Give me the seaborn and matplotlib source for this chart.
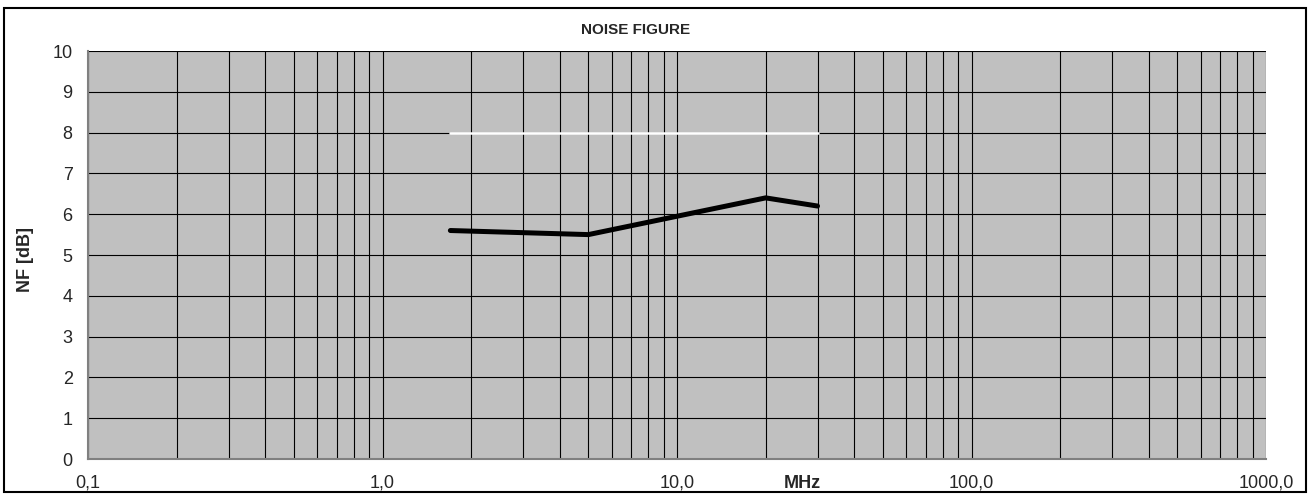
import numpy as np
import matplotlib
matplotlib.use("Agg")
import matplotlib.pyplot as plt
import matplotlib.ticker as mticker
from matplotlib.patches import Rectangle
import seaborn as sns

# NF measurement (MHz, dB)
freq = [1.7, 5.0, 10.0, 20.0, 30.0]
nf = [5.6, 5.5, 5.95, 6.4, 6.2]

# spec limit line
limit_freq = [1.7, 30.0]
limit_nf = [8.0, 8.0]

sns.set_style("white", {"axes.facecolor": "#c0c0c0"})
plt.rcParams['font.family'] = ['Liberation Sans', 'DejaVu Sans']

fig = plt.figure(figsize=(13.11, 4.97), dpi=100)
ax = fig.add_axes([88 / 1311, 1 - 459 / 497, (1266 - 88) / 1311, (459 - 51) / 497])

sns.lineplot(x=limit_freq, y=limit_nf, color="white", linewidth=1.8, ax=ax)
sns.lineplot(x=freq, y=nf, color="black", linewidth=3.6, ax=ax,
             solid_capstyle="round", solid_joinstyle="miter")

ax.set_xscale("log")
ax.set_xlim(0.1, 1000)
ax.set_ylim(0, 10)
ax.set_yticks(range(0, 11))
ax.xaxis.set_major_locator(mticker.LogLocator(base=10, numticks=10))
ax.xaxis.set_minor_locator(mticker.LogLocator(base=10, subs=np.arange(2, 10), numticks=10))
ax.xaxis.set_major_formatter(mticker.FuncFormatter(lambda v, p: f"{v:.1f}".replace(".", ",")))
ax.xaxis.set_minor_formatter(mticker.NullFormatter())

ax.grid(True, which="both", axis="x", color="black", linewidth=0.8)
ax.grid(True, which="major", axis="y", color="black", linewidth=0.8)
ax.set_axisbelow(True)

for s in ["top", "right"]:
    ax.spines[s].set_visible(False)
for s in ["left", "bottom"]:
    ax.spines[s].set_color("#808080")
    ax.spines[s].set_linewidth(1.5)

ax.tick_params(axis="both", which="major", length=4, width=1, color="black",
               labelsize=13, direction="out")
ax.tick_params(axis="x", which="minor", length=0)
ax.tick_params(axis="x", pad=7)
ax.tick_params(axis="y", pad=7)

fig.text(636 / 1311, 1 - 30 / 497, "NOISE FIGURE", fontsize=11, fontweight="bold",
         ha="center", va="center")
ax.set_ylabel("NF [dB]", fontsize=13, fontweight="bold", va="center")
ax.yaxis.set_label_coords(-0.053, 0.49)
ax.set_xlabel("MHz", fontsize=13, fontweight="bold", va="center")
ax.xaxis.set_label_coords(0.606, -0.059)

fig.patches.append(Rectangle((4 / 1311, 5 / 497), 1 - 9 / 1311, 1 - 13 / 497,
                             transform=fig.transFigure, fill=False,
                             edgecolor="black", linewidth=1.5))

fig.savefig("out.png", dpi=100)
